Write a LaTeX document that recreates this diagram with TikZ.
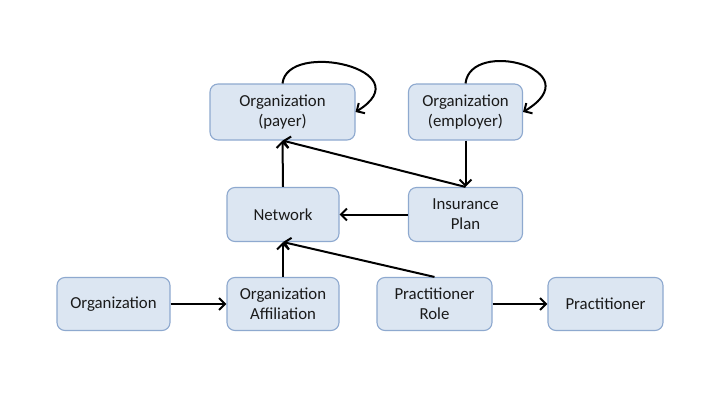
\documentclass[tikz,border=0pt]{standalone}
\usepackage{fontspec}
\setmainfont{Carlito}
\usetikzlibrary{arrows.meta}
\definecolor{boxfill}{HTML}{DCE6F2}
\definecolor{boxline}{HTML}{8EA9CF}
\definecolor{txt}{HTML}{1A1A1A}
\begin{document}
\begin{tikzpicture}[x=1bp,y=1bp,
  box/.style={draw=boxline, fill=boxfill, line width=1.1bp, rounded corners=8bp,
    align=center, inner sep=0pt, text=txt,
    font=\fontsize{16.8bp}{20bp}\selectfont},
  conn/.style={line width=2bp, -{Straight Barb[length=6bp,width=12bp,line width=2bp]}}]
\useasboundingbox (0,0) rectangle (720,405);
\fill[white] (0,0) rectangle (720,405);
% nodes
\node[box, minimum width=145bp, minimum height=56bp] (payer) at (282.5,293) {Organization\\(payer)};
\node[box, minimum width=114bp, minimum height=56bp] (employer) at (465.5,293) {Organization\\(employer)};
\node[box, minimum width=112bp, minimum height=54bp] (network) at (283,190.5) {Network};
\node[box, minimum width=114bp, minimum height=54bp] (plan) at (465.5,190.5) {Insurance\\Plan};
\node[box, minimum width=113bp, minimum height=53bp] (org) at (113.5,101) {Organization};
\node[box, minimum width=112bp, minimum height=53bp] (affil) at (283,101) {Organization\\Affiliation};
\node[box, minimum width=115bp, minimum height=53bp] (role) at (434.5,101) {Practitioner\\Role};
\node[box, minimum width=115bp, minimum height=53bp] (prac) at (605.5,101) {Practitioner};
% connectors
\draw[conn] (payer.north) .. controls +(5,44) and +(68,42) .. (payer.east);
\draw[conn] (employer.north) .. controls +(5,46) and +(70,42) .. (employer.east);
\draw[conn] (employer.south) -- (plan.north);
\draw[conn] (plan.north) -- (payer.south);
\draw[conn] (network.north) -- (payer.south);
\draw[conn] (plan.west) -- (network.east);
\draw[conn] (affil.north) -- (network.south);
\draw[conn] (role.north) -- (network.south);
\draw[conn] (org.east) -- (affil.west);
\draw[conn] (role.east) -- (prac.west);
\end{tikzpicture}
\end{document}
